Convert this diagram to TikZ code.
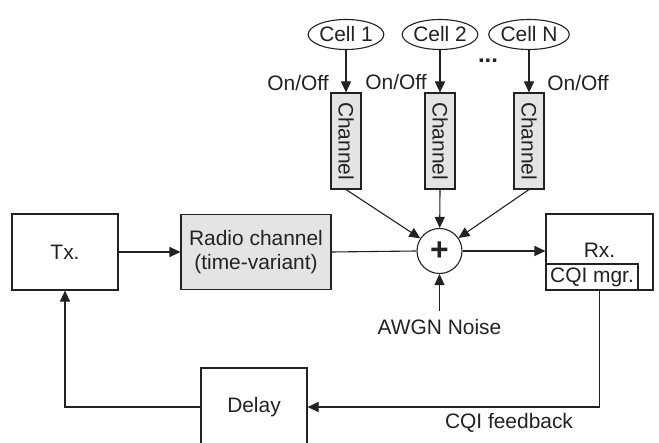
\documentclass[tikz,border=0pt]{standalone}
\usepackage{fontspec}
\setmainfont{Liberation Sans}
\usetikzlibrary{arrows.meta,shapes.geometric}
\definecolor{boxgray}{HTML}{E4E4E4}
\definecolor{ink}{HTML}{222222}
\tikzset{
  every node/.style={font=\fontsize{21}{24}\selectfont, text=ink},
  blk/.style={draw=ink, line width=1.1bp, rectangle, inner sep=0pt},
  shaded/.style={blk, fill=boxgray},
  chbox/.style={shaded, minimum width=96bp, minimum height=30bp, rotate=-90},
  cell/.style={draw=ink, line width=1.1bp, ellipse, inner sep=0pt, minimum width=74bp, minimum height=30bp},
  conn/.style={draw=ink, line width=1.1bp},
  arr/.style={conn, -{Triangle[length=11bp,width=10bp]}},
  lbl/.style={inner sep=0pt}
}
\begin{document}
\begin{tikzpicture}[x=1bp,y=-1bp]
\clip (0,0) rectangle (659,443);
\fill[white] (0,0) rectangle (659,443);
% main chain
\node[blk, minimum width=106bp, minimum height=76bp] (tx) at (65,252) {Tx.};
\node[shaded, minimum width=150bp, minimum height=75bp, align=center] (radio) at (256,252) {Radio channel\\(time-variant)};
\node[draw=ink, line width=1.1bp, circle, minimum size=45bp, inner sep=0pt, font=\fontsize{32}{32}\selectfont\bfseries] (sum) at (439.5,251) {+};
\node[blk, minimum width=107bp, minimum height=76bp] (rx) at (599.5,252) {};
\node[lbl] (rxt) at (599.5,250) {Rx.};
\node[blk, minimum width=92bp, minimum height=26bp] (cqi) at (592,277) {CQI mgr.};
\node[blk, minimum width=106bp, minimum height=78bp] (delay) at (254,407) {Delay};
% cells
\node[cell] (c1) at (346,34.5) {Cell 1};
\node[cell] (c2) at (440,34.5) {Cell 2};
\node[cell] (cn) at (529,34.5) {Cell N};
\node[chbox] (ch1) at (346,141) {Channel};
\node[chbox] (ch2) at (440,141) {Channel};
\node[chbox] (chn) at (529,141) {Channel};
\node[lbl] (oo1) at (298,83) {On/Off};
\node[lbl] (oo2) at (396,82) {On/Off};
\node[lbl] (oon) at (578,83) {On/Off};
\node[lbl, font=\fontsize{24}{24}\selectfont\bfseries] (dots) at (488,61) {...};
% noise
\coordinate (nz) at (439.5,311);
\node[lbl] (awgn) at (439.5,327) {AWGN Noise};
\node[lbl] (fb) at (509,423) {CQI feedback};
% connectors
\draw[arr] (tx.east) -- (radio.west);
\draw[conn] (radio.east) -- (sum.west);
\draw[arr] (sum.east) -- (rx.west |- sum.east);
\draw[arr] (c1.south) -- (ch1.west);
\draw[arr] (c2.south) -- (ch2.west);
\draw[arr] (cn.south) -- (chn.west);
\draw[arr] (ch1.east) -- (sum);
\draw[arr] (ch2.east) -- (sum);
\draw[arr] (chn.east) -- (sum);
\draw[arr] (nz) -- (sum.south);
\draw[arr] (rx.south) |- (delay.east);
\draw[arr] (delay.west) -| (tx.south);
\end{tikzpicture}
\end{document}
